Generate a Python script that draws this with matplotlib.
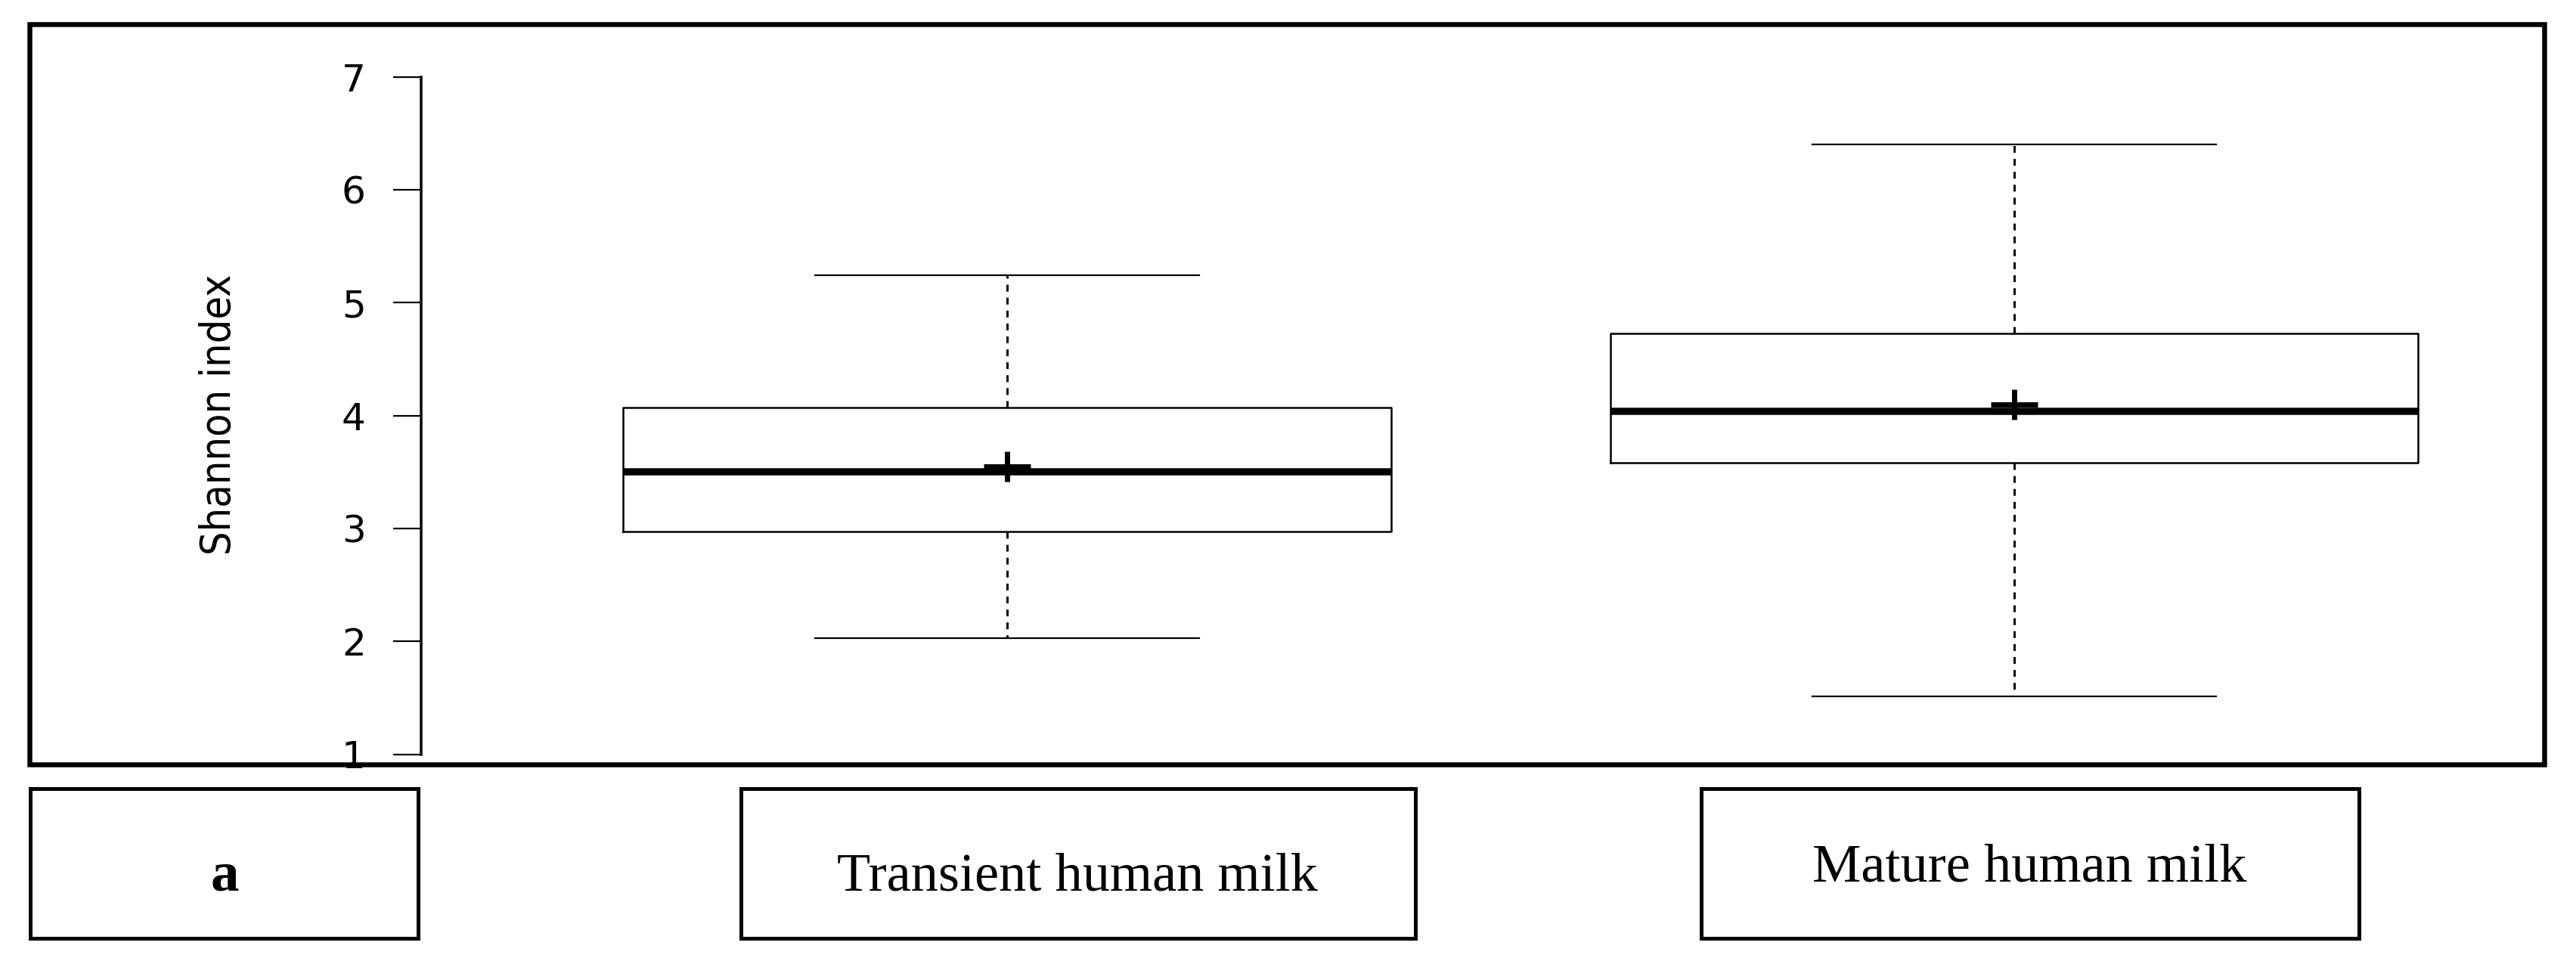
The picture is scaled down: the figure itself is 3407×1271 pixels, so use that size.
import numpy as np
import matplotlib
matplotlib.use("Agg")
import matplotlib.pyplot as plt
from matplotlib.patches import Rectangle
from matplotlib.path import Path

# Shannon index summaries
groups = ['Transient human milk', 'Mature human milk']
whislo = [2.03, 1.51]
q1 = [2.97, 3.58]
median = [3.50, 4.04]
q3 = [4.07, 4.73]
whishi = [5.24, 6.40]
means = [3.55, 4.10]
box_widths = [0.763, 0.802]  # varwidth style boxes
yticks = [1, 2, 3, 4, 5, 6, 7]
panel_label = 'a'

W, H = 3407, 1271
DPI = 100


def fx(px):
    return px / W


def fy(py):
    # pixel measured from top -> figure fraction
    return 1 - py / H


def pt(px):
    return px * 72.0 / DPI


fig = plt.figure(figsize=(W / DPI, H / DPI), dpi=DPI)
fig.patch.set_facecolor('white')

# axes placed so that y=1..7 spans the drawn axis line, boxes at x=1,2
ax_l, ax_r = 556.7, 3340.0
ax_t, ax_b = 101.7, 997.5
c1, c2 = 1332.0, 2664.0
unit = c2 - c1
ax = fig.add_axes([fx(ax_l), fy(ax_b), fx(ax_r - ax_l), (ax_b - ax_t) / H])
ax.set_xlim(1 - (c1 - ax_l) / unit, 2 + (ax_r - c2) / unit)
ax.set_ylim(1, 7)

stats = []
for i in range(len(groups)):
    stats.append(dict(whislo=whislo[i], q1=q1[i], med=median[i], q3=q3[i],
                      whishi=whishi[i], mean=means[i], fliers=[]))

# wide "+" like the stretched original
plus = Path([(-31, 0), (31, 0), (0, -20), (0, 20)],
            [Path.MOVETO, Path.LINETO, Path.MOVETO, Path.LINETO])

ax.bxp(stats, positions=[1, 2], widths=box_widths, showmeans=True,
       showfliers=False, manage_ticks=False,
       boxprops=dict(color='black', linewidth=pt(2.5)),
       whiskerprops=dict(color='black', linewidth=pt(3), linestyle=(0, (3.0, 2.7))),
       capprops=dict(color='black', linewidth=pt(2.2)),
       medianprops=dict(color='black', linewidth=pt(9.5), solid_capstyle='butt'),
       meanprops=dict(marker=plus, markersize=pt(62), markeredgewidth=pt(7),
                      markeredgecolor='black', markerfacecolor='none',
                      linestyle='none'))

for s in ['top', 'right', 'bottom']:
    ax.spines[s].set_visible(False)
ax.spines['left'].set_linewidth(pt(3.5))
ax.set_xticks([])
ax.set_yticks(yticks)
ax.set_yticklabels([str(v) for v in yticks], fontsize=36, family='DejaVu Sans')
ax.tick_params(axis='y', length=pt(37), width=pt(2.2), pad=pt(36), colors='black')
ax.set_ylabel('Shannon index', fontsize=40, fontstretch='condensed',
              family=['Liberation Sans Narrow', 'DejaVu Sans'], va='center')
ax.yaxis.set_label_coords(fx(290), fy(548), transform=fig.transFigure)
ax.patch.set_visible(False)

# outer frame around the plot panel
frame_lw = pt(6.5)
fl, fr, ft, fb = 38.5, 3364.5, 31.5, 1011.0
fig.add_artist(Rectangle((fx(fl), fy(fb)), fx(fr - fl), (fb - ft) / H,
                         transform=fig.transFigure, fill=False,
                         edgecolor='black', linewidth=frame_lw, zorder=5))

# label boxes below the panel
bt, bb = 1042.5, 1240.5
label_boxes = [(40.0, 552.5), (979.5, 1871.5), (2249.5, 3119.5)]
for (l, r) in label_boxes:
    fig.add_artist(Rectangle((fx(l), fy(bb)), fx(r - l), (bb - bt) / H,
                             transform=fig.transFigure, fill=False,
                             edgecolor='black', linewidth=pt(5), zorder=5))

serif = ['Liberation Serif', 'DejaVu Serif']
fig.text(fx(297), fy(1178), panel_label, ha='center', va='baseline',
         fontsize=54, fontweight='bold', family=serif)
fig.text(fx(1425), fy(1177), groups[0], ha='center', va='baseline',
         fontsize=52, family=serif)
fig.text(fx(2684), fy(1166), groups[1], ha='center', va='baseline',
         fontsize=52, family=serif)

fig.savefig('out.png', dpi=DPI)
